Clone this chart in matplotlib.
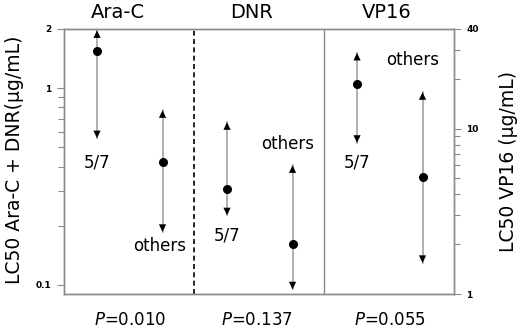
"""LC50 ranges for 5/7 vs other samples, Ara-C / DNR / VP16."""

import matplotlib

matplotlib.use("Agg")
import matplotlib.pyplot as plt

drugs = ["Ara-C", "DNR", "VP16"]
groups = ["5/7", "others"]
# per drug: (low, median, high) for 5/7 and others
lo = [[0.557, 0.186], [0.226, 0.095], [8.2, 1.54]]
mid = [[1.54, 0.421], [0.307, 0.161], [18.6, 5.09]]
hi = [[1.97, 0.773], [0.672, 0.406], [28.7, 16.6]]
p_values = ["0.010", "0.137", "0.055"]

GREY = "#9a9a9a"
SPINE = "#8a8a8a"

plt.rcParams["font.family"] = ["DejaVu Sans"]

fig = plt.figure(figsize=(5.2, 3.31), dpi=100)
ax = fig.add_axes([64 / 520, 1 - 294 / 331, 390 / 520, 265 / 331])
ax2 = ax.twinx()

ax.set_yscale("log")
ax.set_ylim(0.09, 2)
ax2.set_yscale("log")
ax2.set_ylim(1, 40)
ax.set_xlim(0, 3)

ax.set_yticks([0.1, 1, 2])
ax.set_yticklabels(["0.1", "1", "2"])
ax.set_yticks([0.2, 0.3, 0.4, 0.5, 0.6, 0.7, 0.8, 0.9], minor=True)
ax.yaxis.set_minor_formatter(plt.NullFormatter())
ax2.set_yticks([1, 10, 40])
ax2.set_yticklabels(["1", "10", "40"])
ax2.set_yticks([2, 3, 4, 5, 6, 7, 8, 9, 20, 30], minor=True)
ax2.yaxis.set_minor_formatter(plt.NullFormatter())
ax.set_xticks([])

for a in (ax, ax2):
    for s in a.spines.values():
        s.set_color(SPINE)
        s.set_linewidth(1)
    a.tick_params(which="major", length=5, width=0.8, color=SPINE, labelsize=6.5, pad=4)
    a.tick_params(which="minor", length=4, width=0.8, color=SPINE)
    for t in a.get_yticklabels():
        t.set_fontweight("bold")

ax.axvline(1, color="black", lw=1.2, ls=(0, (3, 2)))
ax.axvline(2, color=SPINE, lw=1)

offsets = [0.254, 0.758]
# label placement relative to arrow tips: (tip, dx px, dy px)
label_place = [
    [("lo", 0, -24), ("lo", -3, -14)],
    [("lo", 0, -20), ("hi", -5, 21)],
    [("lo", 0, -20), ("hi", -10, 32)],
]

head = "-|>,head_length=0.55,head_width=0.26"
for i, drug in enumerate(drugs):
    a = ax2 if drug == "VP16" else ax
    for j, grp in enumerate(groups):
        x = i + offsets[j]
        a.plot([x, x], [lo[i][j], hi[i][j]], color=GREY, lw=1.1, zorder=2)
        for tip, dy in ((hi[i][j], -7), (lo[i][j], 7)):
            a.annotate("", xy=(x, tip), xytext=(0, dy), textcoords="offset points",
                       arrowprops=dict(arrowstyle=head, color="black", lw=0,
                                       shrinkA=0, shrinkB=0, mutation_scale=10))
        a.plot(x, mid[i][j], "o", color="black", ms=5.5, zorder=4)
        which, dx, dy = label_place[i][j]
        ty = lo[i][j] if which == "lo" else hi[i][j]
        a.annotate(grp, xy=(x, ty), xytext=(dx * 0.72, dy * 0.72), textcoords="offset points",
                   ha="center", va="center", fontsize=12)

title_x = [118, 252, 387]
for i, drug in enumerate(drugs):
    fig.text(title_x[i] / 520, 1 - 12 / 331, drug, ha="center", va="center", fontsize=14)

p_x = [130, 257, 390]
for i, p in enumerate(p_values):
    fig.text(p_x[i] / 520, 1 - 320 / 331, "$P$=" + p, ha="center", va="center", fontsize=12)

fig.text(15 / 520, 1 - 160 / 331, "LC50 Ara-C + DNR(μg/mL)", rotation=90,
         ha="center", va="center", fontsize=13.5)
fig.text(508 / 520, 1 - 161 / 331, "LC50 VP16 (μg/mL)", rotation=90,
         ha="center", va="center", fontsize=13.5)

fig.savefig("out.png", dpi=100)
